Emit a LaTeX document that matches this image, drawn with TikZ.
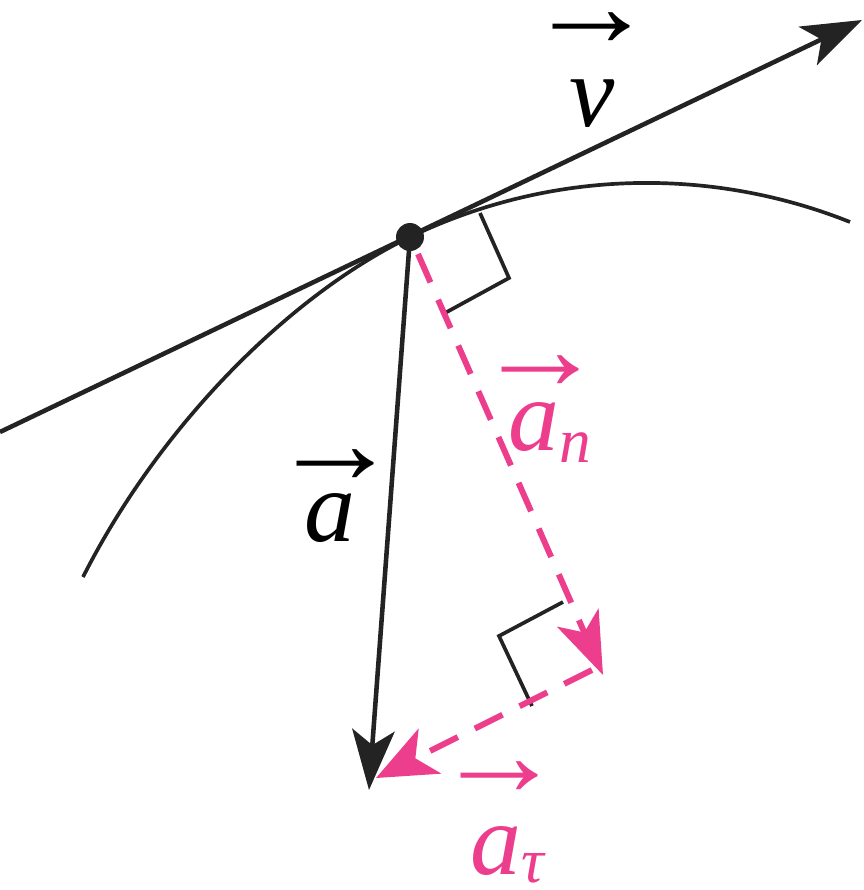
\documentclass[tikz,border=0pt]{standalone}
\usepackage{graphicx}
\usepackage{fontspec}
\setmainfont{Liberation Serif}
\usetikzlibrary{arrows.meta}
\definecolor{pk}{RGB}{236,62,140}
\definecolor{ink}{RGB}{35,35,35}
\newcommand{\vecarr}{\scalebox{1.85}[1.7]{→}}
\begin{document}
\begin{tikzpicture}[x=0.02cm,y=-0.02cm,
  blk/.style={line width=2.6pt, ink},
  thin/.style={line width=2.1pt, ink},
  pkd/.style={line width=3.4pt, pk, dash pattern=on 0.62cm off 0.38cm},
  headb/.style={-{Stealth[length=1.2cm,width=0.85cm,inset=0.3cm]}},
  lbl/.style={inner sep=0, font=\fontsize{58}{60}\selectfont\itshape},
  arr/.style={inner sep=0, font=\fontsize{40}{42}\selectfont},
]
\useasboundingbox (0,0) rectangle (864,890);
\coordinate (P) at (410,237);
\coordinate (T0) at (0,432);
\coordinate (T1) at (862,20);
\coordinate (C0) at (83,577);
\coordinate (C1) at (850,222);
\coordinate (A) at (369,790);
\coordinate (N0) at (418,254);
\coordinate (N1) at (603,675);
\coordinate (N2) at (592,670);
\coordinate (Tau) at (376,778);
% curve
\draw[thin] (C0) .. controls (160,425) and (290,295) .. (P)
            .. controls (560,165) and (720,170) .. (C1);
% tangent / velocity
\draw[blk, headb] (T0) -- (T1);
% acceleration
\draw[blk, headb] (P) -- (A);
% right-angle marks
\coordinate (R1a) at (480,213);
\coordinate (R1b) at (509,278);
\coordinate (R1c) at (445,313);
\draw[thin] (R1a) -- (R1b) -- (R1c);
\coordinate (R2a) at (563,602);
\coordinate (R2b) at (499,636);
\coordinate (R2c) at (532,706);
\draw[thin] (R2a) -- (R2b) -- (R2c);
% components
\draw[pkd, -{Stealth[length=1.25cm,width=0.9cm,inset=0.32cm]}] (N0) -- (N1);
\draw[pkd, -{Stealth[length=1.2cm,width=1.0cm,inset=0.32cm]}] (N2) -- (Tau);
% point
\node[circle, fill=ink, minimum size=0.56cm, inner sep=0] (dot) at (P) {};
% labels
\node[arr] (varr) at (592,30) {\vecarr};
\node[lbl] (vlab) at (592,104) {v};
\node[arr] (aarr) at (336,467) {\vecarr};
\node[lbl] (alab) at (330,518) {a};
\node[arr, pk] (anarr) at (541,373) {\vecarr};
\node[lbl, pk, anchor=base west] (anlab) at (508,450) {a\raisebox{-0.12em}{\fontsize{36}{38}\selectfont n}};
\node[arr, pk] (tarr) at (500,779) {\vecarr};
\node[lbl, pk, anchor=base west] (tlab) at (470,874) {a\raisebox{-0.08em}{\fontsize{36}{38}\selectfont τ}};
\end{tikzpicture}
\end{document}
